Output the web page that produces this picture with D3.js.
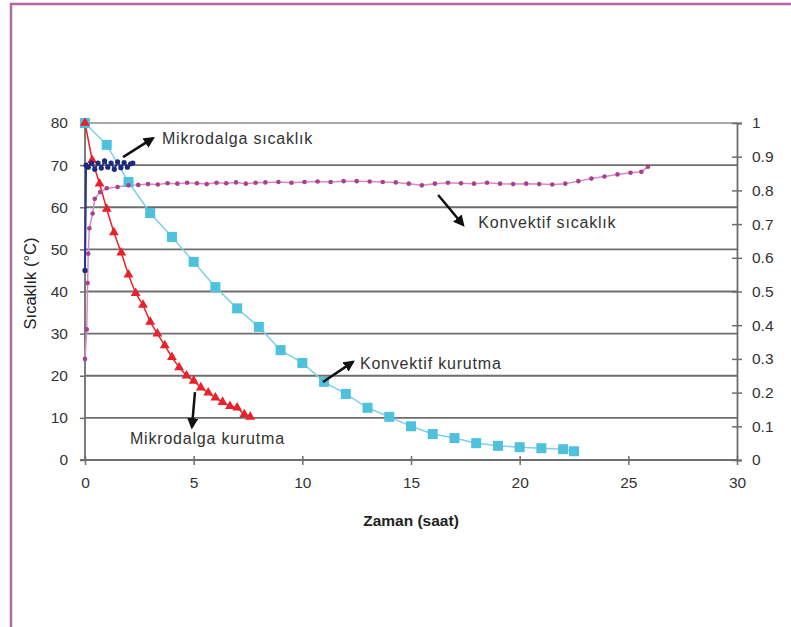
<!DOCTYPE html>
<html>
<head>
<meta charset="utf-8">
<script src="https://cdn.jsdelivr.net/npm/d3@7.9.0/dist/d3.min.js"></script>
<style>
  html, body { margin: 0; padding: 0; background: #fff; }
  svg { display: block; font-family: "Liberation Sans", Arial, sans-serif; }
</style>
</head>
<body>
<svg id="chart" width="791" height="627"></svg>
<script>
// axis ticks
const xTicks = [0, 5, 10, 15, 20, 25, 30];
const leftTicks = [0, 10, 20, 30, 40, 50, 60, 70, 80];
const rightTicks = [0, 0.1, 0.2, 0.3, 0.4, 0.5, 0.6, 0.7, 0.8, 0.9, 1];

// Konvektif kurutma (right axis, nem oranı)
const konvKurT = [0, 1, 2, 3, 4, 5, 6, 7, 8, 9, 10, 11, 12, 13, 14, 15, 16, 17, 18, 19, 20, 21, 22, 22.5];
const konvKurV = [1.0, 0.935, 0.825, 0.733, 0.662, 0.588, 0.513, 0.45, 0.395, 0.326, 0.288, 0.232, 0.196, 0.155, 0.128, 0.10, 0.077, 0.065, 0.05, 0.042, 0.038, 0.035, 0.032, 0.026];

// Mikrodalga kurutma (right axis)
const mikKurT = [0, 0.33, 0.67, 1, 1.33, 1.67, 2, 2.33, 2.67, 3, 3.33, 3.67, 4, 4.33, 4.67, 5, 5.33, 5.67, 6, 6.33, 6.67, 7, 7.33, 7.6];
const mikKurV = [1.0, 0.89, 0.82, 0.745, 0.675, 0.615, 0.55, 0.495, 0.46, 0.41, 0.375, 0.34, 0.305, 0.275, 0.25, 0.235, 0.215, 0.2, 0.185, 0.172, 0.16, 0.155, 0.135, 0.128];

// Mikrodalga sıcaklık (left axis, °C)
const mikSicT = [0, 0.05, 0.15, 0.3, 0.45, 0.6, 0.75, 0.9, 1.05, 1.2, 1.35, 1.5, 1.65, 1.8, 1.95, 2.1, 2.2];
const mikSicV = [45, 70, 69.5, 70.5, 69, 70.5, 69.3, 71, 69.5, 70.5, 69, 70.8, 69.4, 70.6, 69.5, 70.3, 70.5];

// Konvektif sıcaklık (left axis, °C)
const konvSicT = [0, 0.08, 0.12, 0.15, 0.2, 0.35, 0.45, 0.7, 1.0, 1.5, 2.0, 2.45, 2.9, 3.35, 3.8, 4.25, 4.7, 5.15, 5.6, 6.05, 6.5, 6.95, 7.4, 7.85, 8.3, 8.9, 9.5, 10.1, 10.7, 11.3, 11.9, 12.5, 13.1, 13.7, 14.3, 14.9, 15.5, 16.1, 16.7, 17.3, 17.9, 18.5, 19.1, 19.7, 20.3, 20.9, 21.5, 22.1, 22.7, 23.3, 23.9, 24.5, 25.1, 25.6, 25.9];
const konvSicV = [24, 31, 42, 49, 55, 58.5, 62, 63.6, 64.5, 64.8, 65.2, 65.3, 65.5, 65.4, 65.7, 65.6, 65.8, 65.7, 65.5, 65.8, 65.7, 65.9, 65.6, 65.8, 65.9, 66.0, 65.8, 66.0, 66.1, 66.0, 66.2, 66.2, 66.1, 66.0, 65.9, 65.6, 65.2, 65.6, 65.8, 65.7, 65.6, 65.8, 65.6, 65.5, 65.6, 65.5, 65.4, 65.6, 66.2, 66.8, 67.3, 67.8, 68.2, 68.4, 69.6];

// annotations: text position and arrow in data units (x: saat, y: °C)
const notes = [
  { label: 'Mikrodalga sıcaklık', tx: 3.54, ty: 76.4, from: [1.75, 71.9], to: [3.13, 76.4] },
  { label: 'Konvektif sıcaklık', tx: 18.1, ty: 56.3, from: [16.25, 62.9], to: [17.4, 55.8] },
  { label: 'Konvektif kurutma', tx: 12.65, ty: 23.0, from: [10.95, 18.5], to: [12.33, 23.3] },
  { label: 'Mikrodalga kurutma', tx: 2.07, ty: 5.2, from: [5.06, 16.1], to: [4.92, 7.8] }
];

const svg = d3.select('#chart');
const W = 791, H = 627;
const plot = { left: 85, right: 737, top: 123, bottom: 460 };

// frame
svg.append('rect').attr('width', W).attr('height', H).attr('fill', '#fff');
svg.append('path').attr('d', `M11,${H} V4 H${W}`).attr('fill', 'none')
  .attr('stroke', '#b565a7').attr('stroke-width', 2.5);

const x = d3.scaleLinear().domain([0, 30]).range([plot.left, plot.right]);
const yL = d3.scaleLinear().domain([0, 80]).range([plot.bottom, plot.top]);
const yR = d3.scaleLinear().domain([0, 1]).range([plot.bottom, plot.top]);

const txtColor = '#333';

// gridlines
svg.append('g').selectAll('line').data(leftTicks.filter(d => d > 0)).join('line')
  .attr('x1', plot.left).attr('x2', plot.right)
  .attr('y1', d => yL(d)).attr('y2', d => yL(d))
  .attr('stroke', d => d === 80 ? '#a8a8a8' : '#6e6e6e').attr('stroke-width', 1.8);

// left axis
const gL = svg.append('g').attr('transform', `translate(${plot.left},0)`)
  .call(d3.axisLeft(yL).tickValues(leftTicks).tickSize(5).tickPadding(12));
// right axis
const gR = svg.append('g').attr('transform', `translate(${plot.right},0)`)
  .call(d3.axisRight(yR).tickValues(rightTicks).tickSize(5).tickPadding(10).tickFormat(d3.format('~g')));
gR.selectAll('.tick line').attr('x1', -5);
// bottom axis
const gB = svg.append('g').attr('transform', `translate(0,${plot.bottom})`)
  .call(d3.axisBottom(x).tickValues(xTicks).tickSize(5).tickPadding(12));
gB.selectAll('.tick line').attr('y1', -4);

[gL, gR, gB].forEach(g => {
  g.select('.domain').attr('stroke', '#6e6e6e').attr('stroke-width', 1.8);
  g.selectAll('.tick line').attr('stroke', '#6e6e6e').attr('stroke-width', 1.5);
  g.selectAll('.tick text').attr('fill', txtColor).style('font-size', '15.5px')
    .style('font-family', '"Liberation Sans", Arial, sans-serif');
});
gL.select('.domain').attr('d', `M-5,${plot.top}H0V${plot.bottom}H-5`);
gB.select('.domain').attr('d', `M${plot.left},0H${plot.right}`);

// axis titles
svg.append('text').attr('transform', `translate(36,${(plot.top + plot.bottom) / 2 - 8}) rotate(-90)`)
  .attr('text-anchor', 'middle').attr('fill', '#222').style('font-size', '16.5px')
  .text('Sıcaklık (°C)');
svg.append('text').attr('x', 411).attr('y', 526).attr('text-anchor', 'middle')
  .attr('fill', '#222').style('font-size', '15.5px').style('font-weight', 'bold')
  .text('Zaman (saat)');

const zip = (ts, vs) => ts.map((t, i) => ({ t, v: vs[i] }));

// series
const series = [
  { data: zip(konvKurT, konvKurV), y: yR, line: '#7fd0e6', width: 1.5 },
  { data: zip(mikKurT, mikKurV), y: yR, line: '#e8222b', width: 1.5 },
  { data: zip(konvSicT, konvSicV), y: yL, line: '#d78ac6', width: 1.5 },
  { data: zip(mikSicT, mikSicV), y: yL, line: '#283590', width: 2 }
];
series.forEach(s => {
  svg.append('path').datum(s.data)
    .attr('fill', 'none').attr('stroke', s.line).attr('stroke-width', s.width)
    .attr('d', d3.line().x(d => x(d.t)).y(d => s.y(d.v)));
});

// markers
svg.append('g').selectAll('rect').data(series[0].data).join('rect')
  .attr('x', d => x(d.t) - 5).attr('y', d => yR(d.v) - 5)
  .attr('width', 10).attr('height', 10).attr('fill', '#4ec1dd');
svg.append('g').selectAll('path').data(series[1].data).join('path')
  .attr('transform', d => `translate(${x(d.t)},${yR(d.v)})`)
  .attr('d', d3.symbol(d3.symbolTriangle, 42)).attr('fill', '#e8222b');
svg.append('g').selectAll('circle').data(series[2].data).join('circle')
  .attr('cx', d => x(d.t)).attr('cy', d => yL(d.v)).attr('r', 2.3).attr('fill', '#a8408f');
svg.append('g').selectAll('circle').data(series[3].data).join('circle')
  .attr('cx', d => x(d.t)).attr('cy', d => yL(d.v)).attr('r', 2.6).attr('fill', '#1d2a7c');

// annotations
svg.append('defs').append('marker').attr('id', 'ah')
  .attr('viewBox', '0 0 10 10').attr('refX', 8).attr('refY', 5)
  .attr('markerWidth', 4.5).attr('markerHeight', 4.5).attr('orient', 'auto')
  .append('path').attr('d', 'M0,0 L10,5 L0,10 z').attr('fill', '#111');

const gN = svg.append('g');
notes.forEach(n => {
  gN.append('line')
    .attr('x1', x(n.from[0])).attr('y1', yL(n.from[1]))
    .attr('x2', x(n.to[0])).attr('y2', yL(n.to[1]))
    .attr('stroke', '#111').attr('stroke-width', 2.5).attr('marker-end', 'url(#ah)');
  gN.append('text').attr('x', x(n.tx)).attr('y', yL(n.ty)).attr('dy', '0.35em')
    .attr('fill', txtColor).style('font-size', '16px').style('letter-spacing', '0.8px')
    .text(n.label);
});
</script>
</body>
</html>
